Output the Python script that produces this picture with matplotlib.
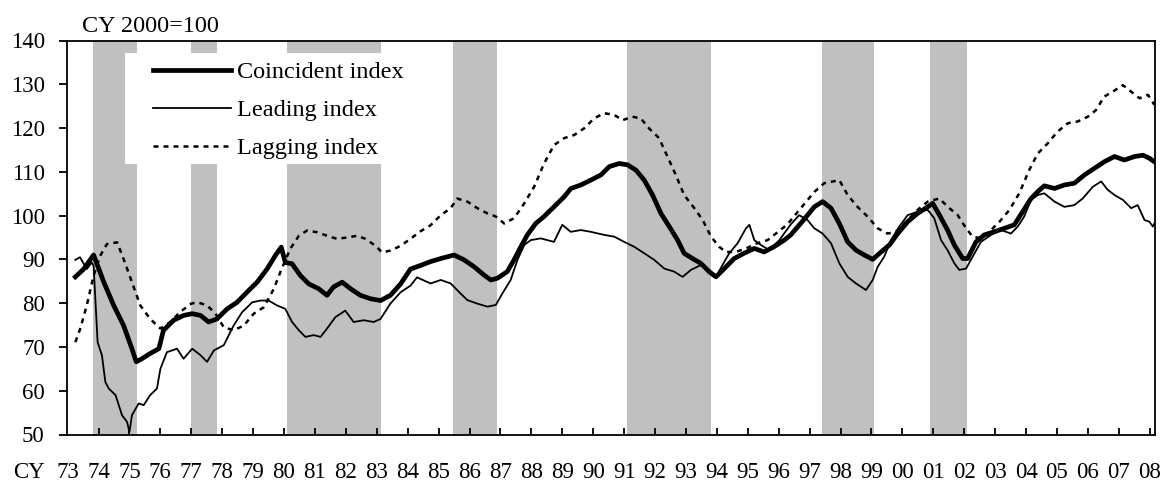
import matplotlib
matplotlib.use("Agg")
import matplotlib.pyplot as plt
from matplotlib.patches import Rectangle
from matplotlib.transforms import blended_transform_factory

plt.rcParams['font.family'] = ['Liberation Serif', 'DejaVu Serif']

# ---- data ----
coin_t = [1973.25, 1973.52, 1973.84, 1974.17, 1974.49, 1974.81, 1975.08, 1975.22, 1975.40, 1975.67,
          1975.95, 1976.10, 1976.43, 1976.75, 1977.03, 1977.30, 1977.56, 1977.83, 1978.16, 1978.48,
          1978.80, 1979.13, 1979.45, 1979.72, 1979.91, 1980.04, 1980.26, 1980.53, 1980.80, 1981.12,
          1981.39, 1981.60, 1981.88, 1982.15, 1982.47, 1982.80, 1983.12, 1983.44, 1983.77, 1984.09,
          1984.41, 1984.74, 1985.07, 1985.50, 1985.82, 1986.15, 1986.47, 1986.69, 1986.90, 1987.22,
          1987.44, 1987.66, 1987.87, 1988.14, 1988.41, 1988.73, 1989.06, 1989.28, 1989.60, 1989.92,
          1990.25, 1990.52, 1990.84, 1991.11, 1991.38, 1991.65, 1991.92, 1992.19, 1992.46, 1992.73,
          1992.94, 1993.21, 1993.48, 1993.75, 1993.97, 1994.24, 1994.56, 1994.88, 1995.21, 1995.53,
          1995.85, 1996.18, 1996.39, 1996.72, 1996.99, 1997.15, 1997.42, 1997.69, 1997.96, 1998.23,
          1998.50, 1998.77, 1999.04, 1999.31, 1999.58, 1999.85, 2000.17, 2000.49, 2000.82, 2000.98,
          2001.20, 2001.46, 2001.68, 2001.95, 2002.11, 2002.38, 2002.65, 2002.97, 2003.30, 2003.62,
          2003.89, 2004.16, 2004.38, 2004.59, 2004.92, 2005.24, 2005.56, 2005.89, 2006.21, 2006.53,
          2006.86, 2007.18, 2007.51, 2007.78, 2007.99, 2008.15]
coin_v = [86.0, 87.8, 91.0, 84.8, 79.5, 74.9, 69.6, 66.6, 67.3, 68.5,
          69.6, 73.8, 76.1, 77.2, 77.6, 77.2, 75.7, 76.4, 78.7, 80.2,
          82.5, 84.8, 87.8, 90.9, 92.8, 89.3, 89.0, 86.3, 84.4, 83.3,
          81.8, 83.7, 84.8, 83.3, 81.8, 81.0, 80.6, 81.8, 84.4, 87.8,
          88.6, 89.5, 90.2, 91.0, 89.9, 88.3, 86.4, 85.3, 85.7, 87.2,
          89.9, 92.9, 95.6, 98.2, 99.8, 102.0, 104.3, 106.2, 107.0, 108.1,
          109.3, 111.2, 111.9, 111.6, 110.4, 108.1, 104.7, 100.5, 97.5, 94.4,
          91.4, 90.2, 89.1, 87.2, 86.0, 87.9, 90.2, 91.4, 92.5, 91.7,
          92.9, 94.4, 95.6, 98.3, 100.6, 102.0, 103.2, 101.7, 98.2, 94.0,
          92.1, 91.0, 90.0, 91.7, 93.3, 95.9, 98.6, 100.5, 102.0, 102.8,
          100.1, 96.7, 93.3, 90.2, 90.2, 94.0, 95.6, 96.3, 97.1, 97.9,
          100.9, 103.9, 105.5, 106.8, 106.2, 107.0, 107.4, 109.3, 110.8, 112.3,
          113.5, 112.7, 113.5, 113.8, 113.1, 112.3]

lead_t = [1973.25, 1973.40, 1973.62, 1973.78, 1973.84, 1973.97, 1974.11, 1974.22, 1974.33, 1974.55,
          1974.76, 1974.92, 1975.00, 1975.08, 1975.30, 1975.46, 1975.67, 1975.89, 1976.00, 1976.21,
          1976.54, 1976.75, 1977.03, 1977.30, 1977.51, 1977.73, 1978.05, 1978.37, 1978.64, 1978.97,
          1979.24, 1979.50, 1979.77, 1980.04, 1980.26, 1980.48, 1980.69, 1980.96, 1981.18, 1981.39,
          1981.66, 1981.98, 1982.25, 1982.58, 1982.90, 1983.12, 1983.44, 1983.77, 1984.09, 1984.30,
          1984.52, 1984.74, 1985.07, 1985.39, 1985.71, 1985.93, 1986.25, 1986.58, 1986.85, 1987.06,
          1987.33, 1987.55, 1987.77, 1987.98, 1988.30, 1988.73, 1989.00, 1989.27, 1989.60, 1989.92,
          1990.35, 1990.68, 1991.00, 1991.32, 1991.65, 1991.97, 1992.30, 1992.62, 1992.89, 1993.16,
          1993.48, 1993.75, 1993.97, 1994.18, 1994.40, 1994.67, 1994.94, 1995.05, 1995.21, 1995.42,
          1995.69, 1996.02, 1996.39, 1996.66, 1996.93, 1997.15, 1997.42, 1997.69, 1997.96, 1998.23,
          1998.50, 1998.82, 1999.04, 1999.20, 1999.41, 1999.63, 1999.90, 2000.17, 2000.49, 2000.82,
          2001.03, 2001.25, 2001.46, 2001.68, 2001.84, 2002.06, 2002.27, 2002.54, 2002.87, 2003.19,
          2003.51, 2003.73, 2003.94, 2004.16, 2004.38, 2004.59, 2004.92, 2005.24, 2005.56, 2005.83,
          2006.16, 2006.43, 2006.64, 2006.86, 2007.13, 2007.40, 2007.61, 2007.83, 2007.99, 2008.10,
          2008.15]
lead_v = [89.9, 90.5, 87.8, 89.3, 88.5, 71.1, 68.1, 62.0, 60.5, 59.0,
          54.4, 52.9, 50.6, 54.4, 57.1, 56.7, 59.0, 60.5, 65.0, 68.8,
          69.6, 67.3, 69.6, 68.1, 66.6, 69.2, 70.4, 74.9, 77.9, 80.2,
          80.6, 80.6, 79.5, 78.7, 75.7, 73.8, 72.3, 72.7, 72.3, 74.2,
          76.8, 78.3, 75.7, 76.1, 75.7, 76.4, 79.9, 82.5, 84.0, 85.9,
          85.2, 84.5, 85.3, 84.5, 82.2, 80.7, 79.9, 79.2, 79.6, 82.2,
          85.3, 89.9, 93.3, 94.4, 94.8, 94.0, 97.9, 96.3, 96.7, 96.3,
          95.6, 95.2, 94.0, 92.9, 91.4, 89.9, 87.9, 87.2, 86.0, 87.6,
          88.7, 87.6, 86.0, 88.7, 91.4, 93.7, 97.1, 97.9, 94.4, 93.3,
          92.1, 94.4, 98.0, 100.1, 99.0, 97.1, 95.9, 93.7, 89.1, 86.0,
          84.5, 83.0, 85.3, 88.3, 90.6, 94.4, 97.5, 100.1, 100.9, 101.3,
          99.4, 94.4, 92.1, 89.1, 87.6, 87.9, 90.6, 94.0, 95.6, 96.7,
          95.9, 97.5, 99.8, 103.6, 104.7, 105.1, 103.2, 102.0, 102.4, 103.9,
          106.6, 107.8, 105.9, 104.7, 103.6, 101.7, 102.4, 99.0, 98.6, 97.5,
          98.2]

lag_t = [1973.25, 1973.41, 1973.62, 1973.84, 1974.06, 1974.27, 1974.60, 1974.81, 1975.08, 1975.35,
         1975.67, 1976.00, 1976.32, 1976.64, 1977.00, 1977.20, 1977.51, 1977.78, 1978.05, 1978.37,
         1978.70, 1979.02, 1979.35, 1979.67, 1979.88, 1980.20, 1980.48, 1980.75, 1981.07, 1981.39,
         1981.71, 1982.04, 1982.36, 1982.63, 1982.96, 1983.17, 1983.44, 1983.77, 1984.09, 1984.41,
         1984.74, 1985.07, 1985.39, 1985.60, 1985.93, 1986.25, 1986.58, 1986.85, 1987.12, 1987.44,
         1987.77, 1988.09, 1988.41, 1988.73, 1989.06, 1989.38, 1989.70, 1990.03, 1990.35, 1990.68,
         1990.95, 1991.27, 1991.54, 1991.81, 1992.13, 1992.40, 1992.67, 1992.94, 1993.27, 1993.54,
         1993.81, 1994.07, 1994.29, 1994.61, 1994.94, 1995.31, 1995.64, 1995.96, 1996.28, 1996.82,
         1997.15, 1997.47, 1997.96, 1998.23, 1998.55, 1998.87, 1999.20, 1999.52, 1999.79, 2000.12,
         2000.49, 2000.82, 2001.19, 2001.52, 2001.79, 2002.06, 2002.27, 2002.54, 2002.81, 2003.14,
         2003.46, 2003.78, 2004.10, 2004.38, 2004.70, 2005.02, 2005.35, 2005.67, 2006.00, 2006.26,
         2006.53, 2006.80, 2007.13, 2007.40, 2007.67, 2007.94, 2008.15]
lag_v = [71.1, 74.2, 79.5, 86.3, 90.9, 93.5, 93.9, 90.1, 84.8, 79.5,
         76.4, 74.2, 75.7, 78.0, 79.9, 80.2, 79.5, 77.6, 74.5, 73.8,
         74.9, 77.6, 79.1, 83.3, 87.1, 92.4, 95.4, 96.6, 96.2, 95.4,
         94.7, 95.0, 95.4, 94.7, 93.1, 91.6, 92.0, 93.1, 94.7, 96.4,
         97.8, 100.1, 101.7, 103.9, 103.2, 101.7, 100.5, 99.8, 98.2, 99.4,
         102.8, 106.6, 111.9, 116.1, 117.7, 118.4, 119.9, 122.2, 123.4, 123.0,
         121.8, 122.6, 122.2, 119.9, 117.7, 113.5, 109.3, 104.7, 101.7, 99.0,
         95.2, 92.9, 91.7, 91.7, 92.5, 93.7, 94.4, 96.2, 98.0, 102.6,
         105.4, 107.4, 108.1, 104.7, 102.0, 99.8, 97.1, 95.9, 96.3, 98.6,
         101.3, 103.2, 103.9, 101.7, 100.1, 97.1, 95.2, 94.8, 96.3, 98.6,
         101.3, 105.1, 110.4, 114.2, 116.5, 119.2, 121.1, 121.5, 122.6, 124.1,
         127.2, 128.3, 129.8, 128.3, 126.8, 127.6, 125.3]

recessions = [(1973.83, 1975.25), (1977.0, 1977.83), (1980.08, 1983.13), (1985.46, 1986.88),
              (1991.1, 1993.8), (1997.39, 1999.08), (2000.88, 2002.08)]

years = list(range(1973, 2009))
year_labels = [f"{y % 100:02d}" for y in years]
y_ticks = list(range(50, 141, 10))

series_names = ["Coincident index", "Leading index", "Lagging index"]

# ---- figure ----
W, H = 1165, 482
fig = plt.figure(figsize=(W / 100, H / 100), dpi=100)
L, R, T, B = 67, 1155, 40.5, 434.5
ax = fig.add_axes([L / W, 1 - B / H, (R - L) / W, (B - T) / H])
ax.set_xlim(1972.98, 2008.17)
ax.set_ylim(50, 140)

for s, e in recessions:
    ax.axvspan(s, e, color='#C0C0C0', lw=0, zorder=1)

# white legend backing box
ax.add_patch(Rectangle((1974.85, 111.8), 1983.9 - 1974.85, 137.1 - 111.8,
                       facecolor='white', edgecolor='none', zorder=1.2))

ax.plot(coin_t, coin_v, color='black', lw=3.4, label=series_names[0], zorder=3,
        solid_joinstyle='round')
ax.plot(lead_t, lead_v, color='black', lw=1.3, label=series_names[1], zorder=3)
ax.plot(lag_t, lag_v, color='black', lw=1.8, linestyle=(0, (2.0, 2.0)),
        label=series_names[2], zorder=3)

for sp in ax.spines.values():
    sp.set_linewidth(1.3)
    sp.set_zorder(4)

ax.set_yticks(y_ticks)
ax.tick_params(axis='y', direction='out', length=6, width=1.3, pad=10, labelsize=16.5)
ax.set_xticks(years[1:])
ax.set_xticklabels([])
ax.tick_params(axis='x', direction='in', length=5, width=1.3)

# year labels under the axis
trans = blended_transform_factory(ax.transData, fig.transFigure)
for y, lab in zip(years, year_labels):
    ax.text(y, 1 - 478 / H, lab, transform=trans, ha='center', va='baseline',
            fontsize=16.5, clip_on=False)
fig.text(13 / W, 1 - 478 / H, "CY", ha='left', va='baseline', fontsize=16.5)
fig.text(82 / W, 1 - 32 / H, "CY 2000=100", ha='left', va='baseline', fontsize=17.5)

leg = ax.legend(loc='upper left', bbox_to_anchor=((153 - L) / (R - L), (B - 61) / (B - T)),
                frameon=False, fontsize=17.5, handlelength=3.2, handletextpad=0.25,
                labelspacing=0.66, borderpad=0, borderaxespad=0)
leg.set_zorder(5)

fig.savefig("out.png", dpi=100)
